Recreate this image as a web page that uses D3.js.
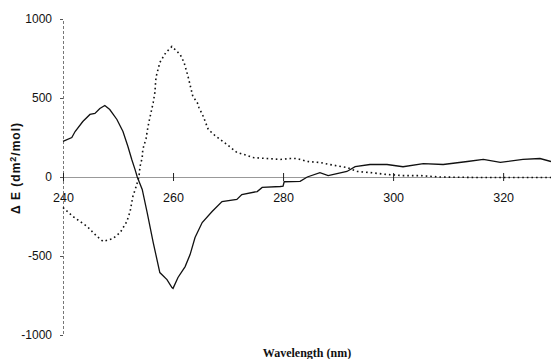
<!DOCTYPE html>
<html>
<head>
<meta charset="utf-8">
<script src="https://cdn.jsdelivr.net/npm/d3@7"></script>
<style>
  body { margin: 0; background: #fff; }
  svg { display: block; }
</style>
</head>
<body>
<div id="chart"></div>
<script>
// solid trace (nm, delta epsilon)
const solidNm = [240.0, 241.6, 242.2, 243.6, 244.9, 245.8, 246.7, 247.6, 248.5, 249.8, 250.9, 251.8,
    252.5, 253.1, 253.5, 254.4, 255.3, 256.4, 257.6, 258.9, 259.8, 260.0, 260.9, 262.2, 263.1, 264.0,
    265.3, 267.1, 268.9, 271.6, 272.5, 275.3, 276.2, 279.5, 280.0, 280.2, 283.1, 284.4, 286.7, 288.2,
    289.8, 291.6, 293.1, 295.8, 298.9, 301.8, 305.5, 309.1, 313.5, 316.4, 319.5, 323.6, 326.7, 328.7];
const solidVal = [225, 250, 288, 351, 396, 402, 434, 453, 427, 364, 288, 193,
    111, 47, 0, -79, -225, -415, -605, -649, -700, -705, -636, -567, -491, -383,
    -288, -218, -155, -142, -111, -92, -66, -60, -58, -30, -28, 0, 28, 9,
    22, 35, 66, 79, 79, 65, 85, 79, 98, 111, 92, 111, 117, 98];

// dotted trace
const dottedNm = [240.0, 241.8, 244.4, 246.2, 247.3, 249.1, 250.4, 251.6, 252.2, 252.7, 253.3, 253.8,
    254.0, 254.4, 254.5, 255.1, 255.3, 255.6, 256.0, 256.4, 256.7, 256.9, 257.6, 258.7, 259.8, 261.3,
    262.0, 262.7, 263.6, 264.4, 264.7, 265.5, 266.4, 267.6, 269.8, 271.6, 273.5, 274.5, 277.1, 279.5,
    281.3, 282.5, 284.4, 286.7, 288.5, 291.6, 293.5, 295.8, 298.9, 301.8, 304.9, 308.5, 315.0, 328.7];
const dottedVal = [-193, -250, -313, -377, -408, -389, -351, -282, -218, -123, -60, 0,
    66, 123, 174, 244, 288, 345, 408, 472, 535, 630, 725, 788, 826, 775,
    725, 640, 510, 472, 440, 383, 301, 263, 206, 155, 136, 123, 117, 111,
    117, 117, 98, 92, 79, 60, 35, 28, 16, 9, 9, 0, -3, -3];

const xTicks = [240, 260, 280, 300, 320];
const yTicks = [-1000, -500, 0, 500, 1000];

const width = 551;
const height = 359;

const svg = d3.select('#chart')
    .append('svg')
    .attr('width', width)
    .attr('height', height);

const x = d3.scaleLinear().domain([240, 328.7]).range([63, 551]);
const y = d3.scaleLinear().domain([-1000, 1000]).range([335, 19]);

// y axis
const yAxis = svg.append('g')
    .attr('transform', `translate(${x(240)}, 0)`)
    .call(d3.axisLeft(y).tickValues(yTicks).tickSize(3).tickPadding(8).tickFormat((d) => String(d)));
yAxis.select('.domain')
    .attr('stroke', '#777')
    .attr('stroke-dasharray', '3,2');
yAxis.selectAll('.tick line').attr('stroke', '#555');
yAxis.selectAll('.tick text')
    .attr('font-family', 'Liberation Sans, Arial, sans-serif')
    .attr('font-size', '12px')
    .attr('fill', '#111');

// x axis along zero
const xAxis = svg.append('g')
    .attr('transform', `translate(0, ${y(0)})`)
    .call(d3.axisBottom(x).tickValues(xTicks).tickSize(4).tickPadding(12).tickSizeOuter(0));
xAxis.select('.domain').attr('stroke', '#999');
xAxis.selectAll('.tick line')
    .attr('y1', -4)
    .attr('stroke', '#222');
xAxis.selectAll('.tick text')
    .attr('font-family', 'Liberation Sans, Arial, sans-serif')
    .attr('font-size', '12.5px')
    .attr('fill', '#111');

const line = d3.line()
    .x((d) => x(d[0]))
    .y((d) => y(d[1]));

svg.append('path')
    .datum(solidNm.map((n, i) => [n, solidVal[i]]))
    .attr('d', line)
    .attr('fill', 'none')
    .attr('stroke', '#111')
    .attr('stroke-width', 1.3);

svg.append('path')
    .datum(dottedNm.map((n, i) => [n, dottedVal[i]]))
    .attr('d', line)
    .attr('fill', 'none')
    .attr('stroke', '#111')
    .attr('stroke-width', 1.6)
    .attr('stroke-dasharray', '1.6,3');

// titles
const yTitle = svg.append('text')
    .attr('transform', `translate(20, 168) rotate(-90)`)
    .attr('text-anchor', 'middle')
    .attr('font-family', 'Liberation Sans, Arial, sans-serif')
    .attr('font-weight', 'bold')
    .attr('font-size', '12px')
    .attr('letter-spacing', '1px')
    .attr('fill', '#111');
yTitle.append('tspan').text('\u0394 \u0395  (dm');
yTitle.append('tspan').attr('font-size', '9px').attr('dy', -4).text('2');
yTitle.append('tspan').attr('dy', 4).text('/mol)');

svg.append('text')
    .attr('x', 307)
    .attr('y', 357)
    .attr('text-anchor', 'middle')
    .attr('font-family', 'Liberation Serif, Times New Roman, serif')
    .attr('font-weight', 'bold')
    .attr('font-size', '12px')
    .attr('fill', '#111')
    .text('Wavelength (nm)');
</script>
</body>
</html>
